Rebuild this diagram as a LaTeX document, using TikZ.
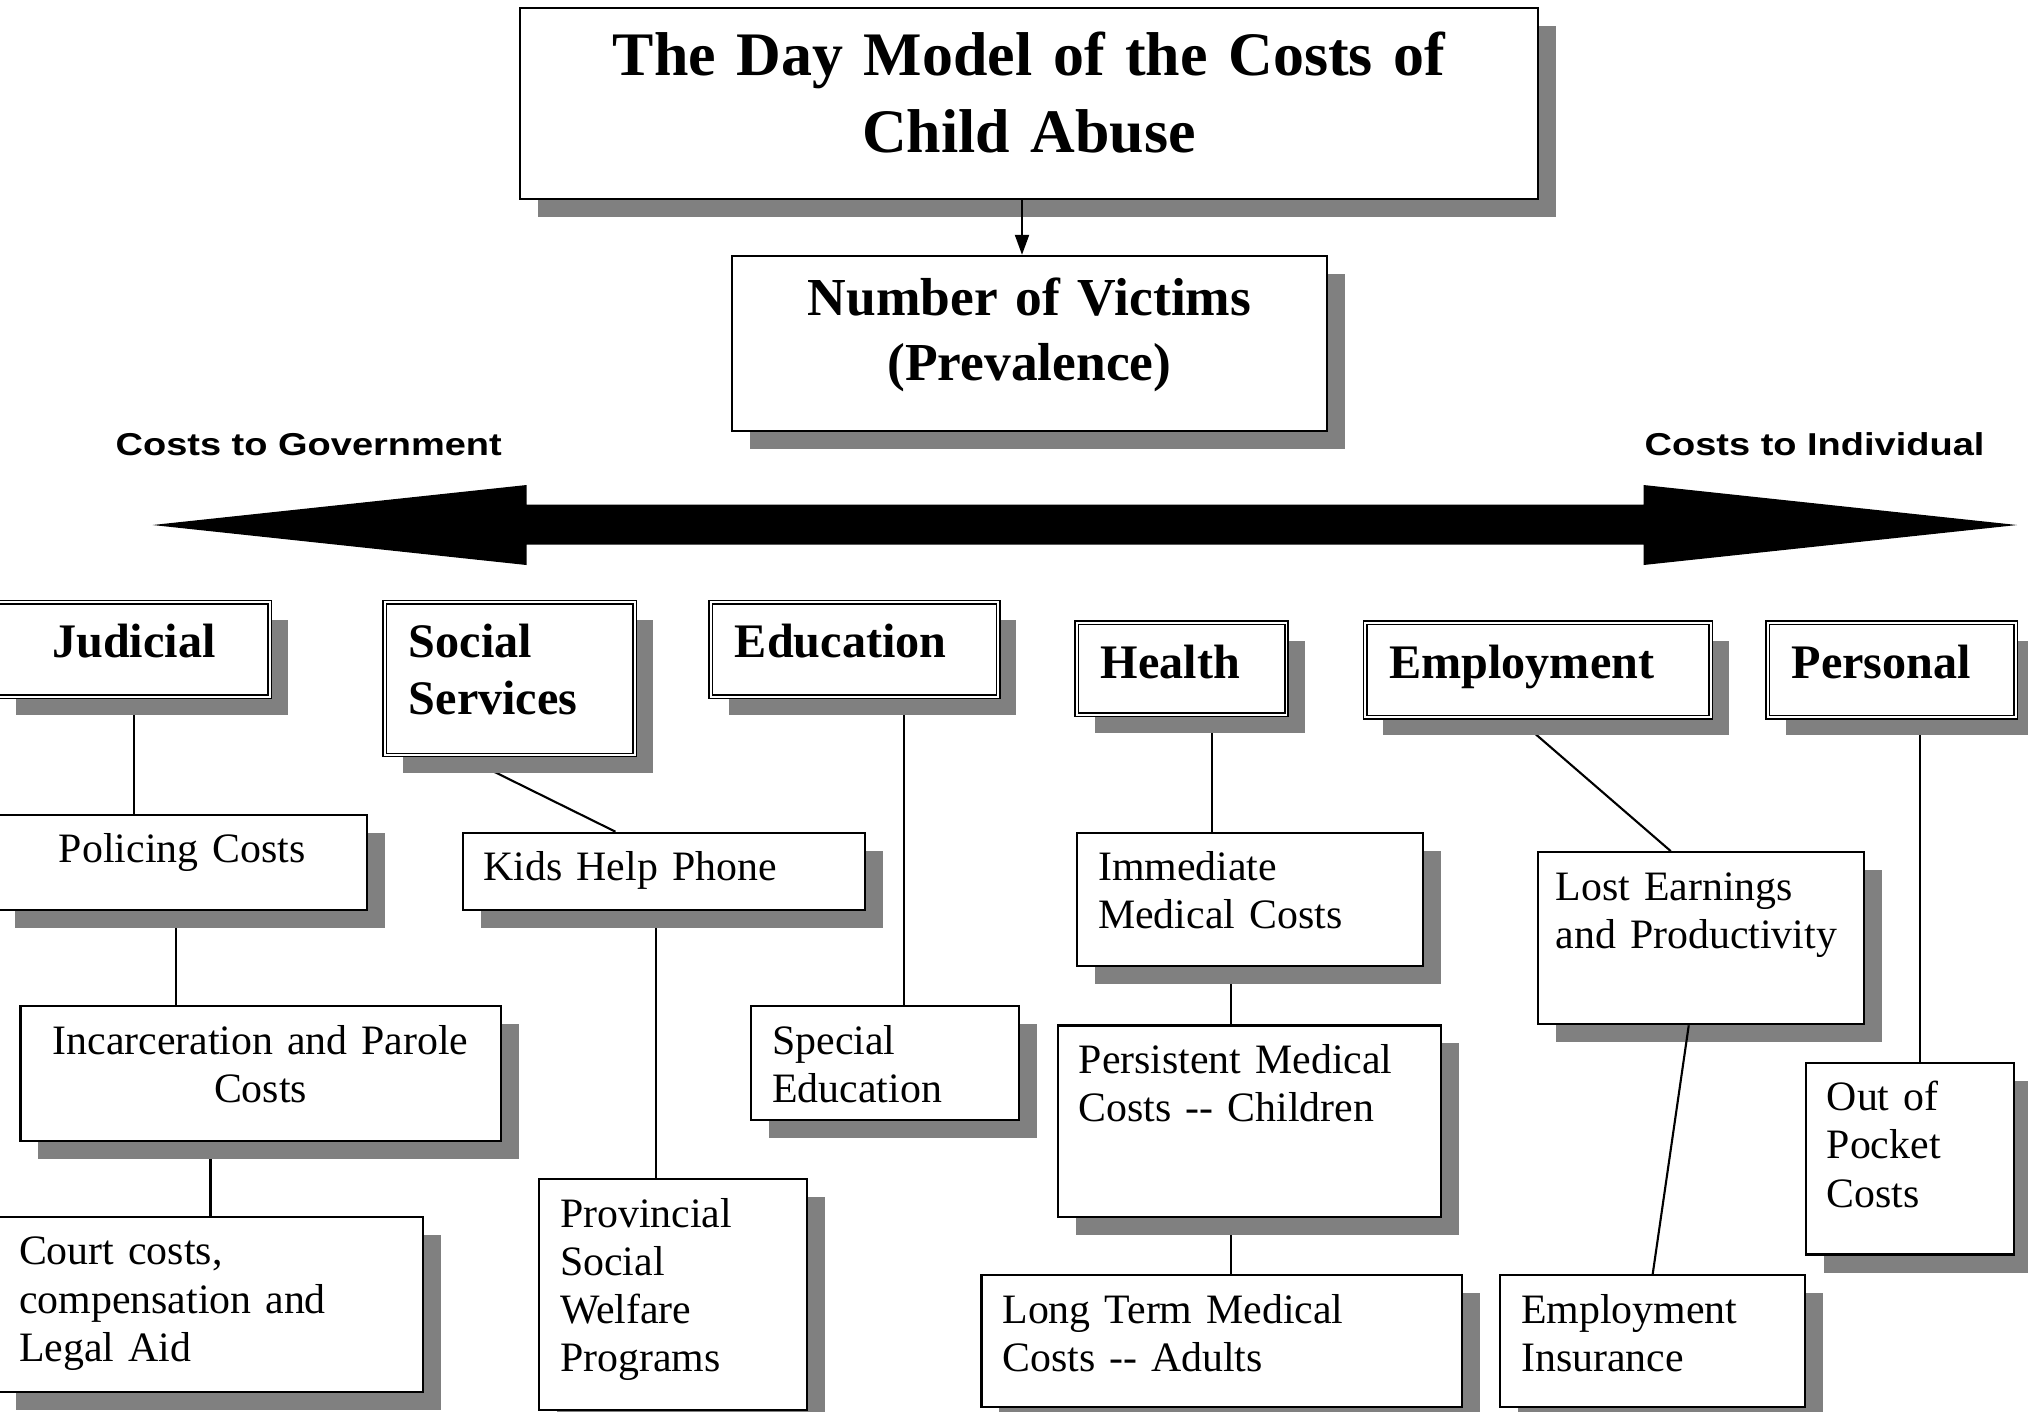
\documentclass[tikz,border=0pt]{standalone}
\usepackage{fontspec}
\setmainfont{Liberation Serif}
\newfontfamily\costfont{Liberation Sans}[FakeStretch=1.2]
\usetikzlibrary{arrows.meta, shadows, backgrounds}

\begin{document}
\begin{tikzpicture}[%
    x=0.01cm, y=-0.01cm,                        % one unit = one pixel of the slide
    >={Triangle[length=0.2cm, width=0.14cm]},   % small solid head
    ]

\tikzset{
  base/.style={anchor=north west, inner ysep=0pt, fill=white, line width=0.6pt,
               drop shadow={shadow xshift=0.18cm, shadow yshift=-0.18cm, opacity=1, fill=black!50}},
  head/.style={base, draw, align=center, inner xsep=0.21cm},
  cat/.style={base, draw, double, double distance=0.5pt, line width=0.45pt, align=left,
              inner xsep=0.24cm, text height=0.555cm, font=\fontsize{13.7}{16.1}\selectfont\bfseries},
  cost/.style={base, draw, align=left, inner xsep=0.21cm, text height=0.48cm,
               font=\fontsize{11.9}{13.7}\selectfont},
  side/.style={anchor=base west, inner sep=0pt, font=\costfont\fontsize{9}{11}\selectfont\bfseries},
  link/.style={line width=0.6pt}
  };

\useasboundingbox (0,0) rectangle (2028,1411);

% TOP
\node[head, text width=9.759cm, text height=0.68cm, text depth=1.234cm,
      font=\fontsize{17.6}{21.8}\selectfont\bfseries] (model) at (518.7,6.5)
    { The Day Model of the Costs of\\ Child Abuse };
\node[head, text width=5.529cm, text height=0.6cm, text depth=1.146cm,
      font=\fontsize{15.2}{18.3}\selectfont\bfseries] (victims) at (730.8,254.8)
    { Number of Victims\\ (Prevalence) };

\draw[link, ->] ([xshift=-0.07cm]model.south) -- ([xshift=-0.07cm]model.south |- victims.north);

% Government <-> Individual
\node[side] (government) at (115,455) {Costs to Government};
\node[side] (individual) at (1644,455) {Costs to Individual};

\fill (152.6,525) -- (526.5,485) -- (526.5,504.5) -- (1643.5,504.5) -- (1643.5,485)
   -- (2017,525) -- (1643.5,565) -- (1643.5,544.5) -- (526.5,544.5) -- (526.5,565) -- cycle;

% CATEGORIES
\node[cat, align=center, text width=2.24cm, text depth=0.389cm] (judicial) at (-3,601.4) {Judicial};
\node[cat, text width=2.017cm, text depth=0.972cm] (social) at (384.1,601.4) {Social\\ Services};
\node[cat, text width=2.391cm, text depth=0.389cm] (education) at (710.1,601.4) {Education};
\node[cat, text width=1.615cm, text depth=0.364cm] (health) at (1076.1,622.1) {Health};
\node[cat, text width=2.974cm, text depth=0.389cm] (employment) at (1364.5,622.1) {Employment};
\node[cat, text width=2.0cm, text depth=0.389cm] (personal) at (1766.8,622.1) {Personal};

% COSTS
\node[cost, align=center, text width=3.281cm, text depth=0.478cm] (policing) at (-4,813.5)
    { Policing Costs };
\node[cost, align=center, text width=4.379cm, text depth=0.865cm] (parole) at (19.4,1005)
    { Incarceration and Parole\\ Costs };
\node[cost, text width=3.826cm, text depth=1.266cm] (court) at (-3,1215.8)
    { Court costs,\\ compensation and\\ Legal Aid };
\node[cost, text width=3.603cm, text depth=0.296cm] (kids) at (461.7,831.7)
    { Kids Help Phone };
\node[cost, text width=2.258cm, text depth=1.822cm] (welfare) at (538,1178.3)
    { Provincial\\ Social\\ Welfare\\ Programs };
\node[cost, text width=2.257cm, text depth=0.658cm] (special) at (750.2,1005)
    { Special\\ Education };
\node[cost, text width=3.034cm, text depth=0.852cm] (immediate) at (1076.1,831.7)
    { Immediate\\ Medical Costs };
\node[cost, text width=3.409cm, text depth=1.434cm] (persistent) at (1056.7,1024.4)
    { Persistent Medical\\ Costs -{}- Children };
\node[cost, text width=4.378cm, text depth=0.839cm] (longterm) at (980.4,1274)
    { Long Term Medical\\ Costs -{}- Adults };
\node[cost, inner xsep=0.18cm, text width=2.9cm, text depth=1.24cm] (earnings) at (1536.6,851.1)
    { Lost Earnings\\ and Productivity };
\node[cost, text width=2.629cm, text depth=0.839cm] (insurance) at (1499.1,1274)
    { Employment\\ Insurance };
\node[cost, text width=1.663cm, text depth=1.436cm] (pocket) at (1804.7,1061.7)
    { Out of\\ Pocket\\ Costs };

% Links (behind the shadows)
\begin{scope}[on background layer]
\draw[link] (judicial.south) -- (judicial.south |- policing.north);
\draw[link] ([xshift=-0.06cm]policing.south) -- ([xshift=-0.06cm]policing.south |- parole.north);
\draw[link] (parole.south -| court.north) -- (court.north);

\draw[link] ([xshift=-0.48cm]social.south) -- ([xshift=-0.485cm]kids.north);
\draw[link] ([xshift=-0.08cm]kids.south) -- ([xshift=-0.08cm]kids.south |- welfare.north);

\draw[link] ([xshift=0.49cm]education.south) -- ([xshift=0.49cm]education.south |- special.north);

\draw[link] ([xshift=0.30cm]health.south) -- ([xshift=0.30cm]health.south |- immediate.north);
\draw[link] ([xshift=-0.19cm]immediate.south) -- ([xshift=-0.19cm]immediate.south |- persistent.north);
\draw[link] ([xshift=-0.18cm]persistent.south) -- ([xshift=-0.18cm]persistent.south |- longterm.north);

\draw[link] ([xshift=-0.21cm]employment.south) -- ([xshift=-0.30cm]earnings.north);

\draw[link] ([xshift=0.28cm]personal.south) -- ([xshift=0.28cm]personal.south |- pocket.north);
\end{scope}

\draw[link] ([xshift=-0.12cm]earnings.south) -- (insurance.north);

\end{tikzpicture}
\end{document}
